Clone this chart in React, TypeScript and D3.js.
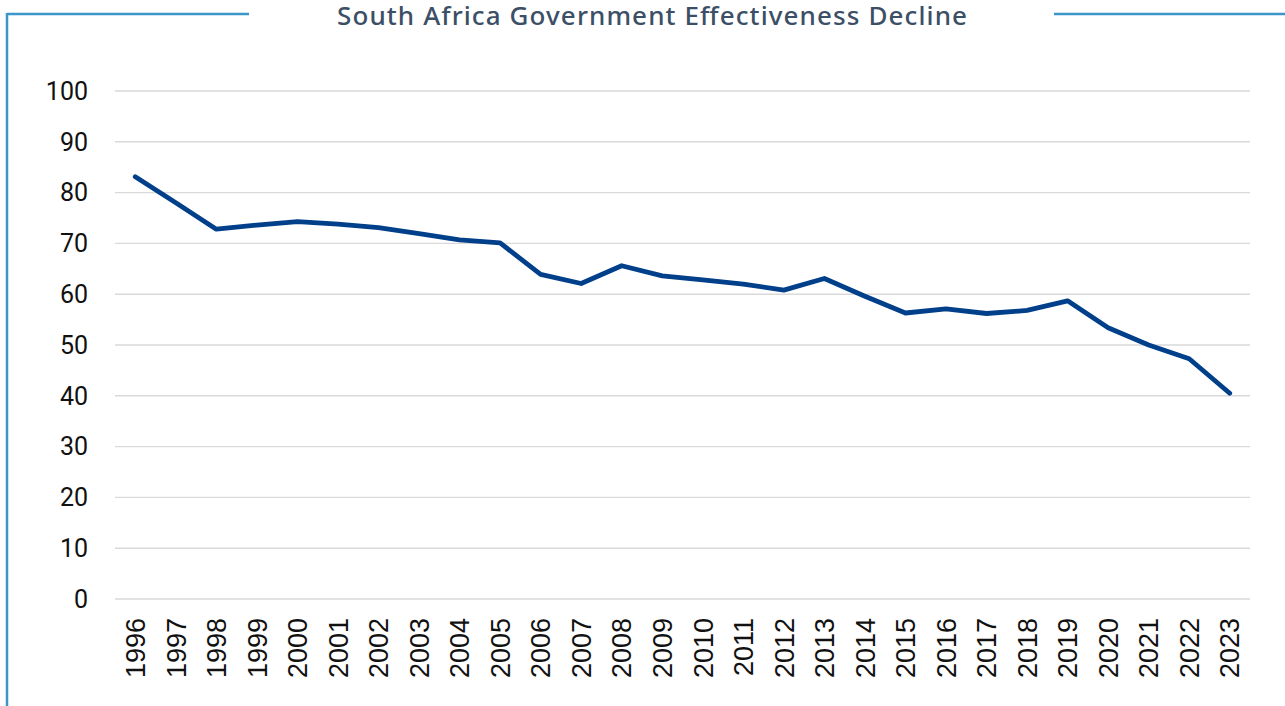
import * as d3 from 'd3'

// Chart data
const YEARS = [
  '1996', '1997', '1998', '1999', '2000', '2001', '2002', '2003', '2004', '2005',
  '2006', '2007', '2008', '2009', '2010', '2011', '2012', '2013', '2014', '2015',
  '2016', '2017', '2018', '2019', '2020', '2021', '2022', '2023',
]
const EFFECTIVENESS = [
  83.1, 78.0, 72.8, 73.6, 74.3, 73.8, 73.1, 71.9, 70.7, 70.1,
  63.9, 62.1, 65.6, 63.6, 62.8, 62.0, 60.8, 63.1, 59.6, 56.3,
  57.1, 56.2, 56.8, 58.7, 53.4, 50.0, 47.3, 40.5,
]
const Y_TICKS = [0, 10, 20, 30, 40, 50, 60, 70, 80, 90, 100]
const TITLE = 'South Africa Government Effectiveness Decline'

const WIDTH = 1285
const HEIGHT = 706
const FRAME = '#3b97c9'
const LINE = '#003f8a'
const GRID = '#d9d9d9'

const App = () => {
  const x = d3.scalePoint<string>().domain(YEARS).range([115, 1250]).padding(0.5)
  const y = d3.scaleLinear().domain([0, 100]).range([599, 91])

  const line = d3.line<number>()
    .x((_, i) => x(YEARS[i]) ?? 0)
    .y(d => y(d))

  return (
    <svg
      width={WIDTH}
      height={HEIGHT}
      style={{ position: 'absolute', left: 0, top: 0, display: 'block', background: '#fff' }}
    >
      {/* frame */}
      <line x1={7} y1={14} x2={249} y2={14} stroke={FRAME} strokeWidth={2.5} />
      <line x1={1054} y1={14} x2={WIDTH} y2={14} stroke={FRAME} strokeWidth={2.5} />
      <line x1={7} y1={13} x2={7} y2={HEIGHT} stroke={FRAME} strokeWidth={2.5} />

      {/* title */}
      <text
        x={652}
        y={25}
        textAnchor="middle"
        fontFamily="'Noto Sans', sans-serif"
        fontSize={26}
        fontWeight={500}
        fill="#3c4f66"
        textLength={630}
        lengthAdjust="spacing"
      >
        {TITLE}
      </text>

      {/* gridlines + y labels */}
      {Y_TICKS.map(t => (
        <g key={t}>
          <line x1={115} x2={1250} y1={y(t)} y2={y(t)} stroke={GRID} strokeWidth={1.4} />
          <text
            x={88}
            y={y(t)}
            dy="0.35em"
            textAnchor="end"
            fontFamily="Roboto, sans-serif"
            fontSize={25}
            fill="#111"
          >
            {t}
          </text>
        </g>
      ))}

      {/* x labels */}
      {YEARS.map(yr => (
        <text
          key={yr}
          transform={`translate(${x(yr)}, 618) rotate(-90)`}
          dy="0.36em"
          textAnchor="end"
          fontFamily="'Liberation Sans', Arial, sans-serif"
          fontSize={27}
          fill="#111"
        >
          {yr}
        </text>
      ))}

      {/* series */}
      <path
        d={line(EFFECTIVENESS) || ''}
        fill="none"
        stroke={LINE}
        strokeWidth={4.8}
        strokeLinejoin="round"
        strokeLinecap="round"
      />
    </svg>
  )
}

export default App
